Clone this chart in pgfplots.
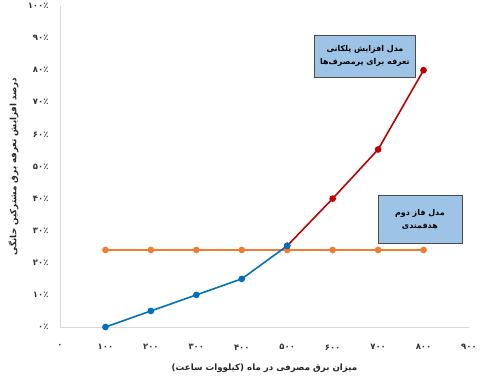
\documentclass[border=0pt]{standalone}
\usepackage{pgfplots}
\pgfplotsset{compat=1.18}
\usepackage{fontspec}
\setmainfont{DejaVu Sans}
\newfontfamily\fa[Script=Arabic]{DejaVu Sans}
\TeXXeTstate=1
\definecolor{cblue}{RGB}{0,112,192}
\definecolor{corng}{RGB}{237,125,49}
\definecolor{cred}{RGB}{192,0,0}
\definecolor{cgrid}{RGB}{217,217,217}
\definecolor{cbox}{RGB}{157,195,230}
\begin{document}
\begin{tikzpicture}
\begin{axis}[
  scale only axis,
  width=409bp, height=321bp,
  xmin=0, xmax=900, ymin=0, ymax=100,
  axis lines*=left,
  axis line style={cgrid, line width=0.8pt},
  tick style={draw=none},
  xtick={0,100,...,900},
  xticklabels={۰,۱۰۰,۲۰۰,۳۰۰,۴۰۰,۵۰۰,۶۰۰,۷۰۰,۸۰۰,۹۰۰},
  ytick={0,10,...,100},
  yticklabels={۰٪,۱۰٪,۲۰٪,۳۰٪,۴۰٪,۵۰٪,۶۰٪,۷۰٪,۸۰٪,۹۰٪,۱۰۰٪},
  ticklabel style={font=\fa\bfseries\fontsize{8.5}{10}\selectfont, text=black!80},
  xticklabel style={yshift=-14bp},
  yticklabel style={xshift=-8bp},
  xlabel={\beginR میزان برق مصرفی در ماه (کیلووات ساعت)\endR},
  ylabel={\beginR درصد افزایش تعرفه برق مشترکین خانگی\endR},
  label style={font=\fa\bfseries\fontsize{8.7}{10}\selectfont, text=black!85},
  xlabel style={at={(axis description cs:0.5,0)}, anchor=north, yshift=-33bp},
  ylabel style={at={(axis description cs:0,0.5)}, anchor=south, yshift=38bp},
  clip=false,
]
\addplot[draw=corng, fill=none, line width=1.6pt, mark=*, mark size=2.5pt, mark options={fill=corng, draw=corng}] coordinates {
  (100,24) (200,24) (300,24) (400,24) (500,24) (600,24) (700,24) (800,24)};
\addplot[draw=cred, line width=1.6pt, mark=*, mark size=2.5pt, mark options={fill=cred, draw=cred}] coordinates {
  (500,25.3) (600,40) (700,55.3) (800,80)};
\addplot[draw=cblue, line width=1.6pt, mark=*, mark size=2.5pt, mark options={fill=cblue, draw=cblue}] coordinates {
  (100,0) (200,5) (300,10) (400,15) (500,25.3)};
\node[draw=black!70, fill=cbox, align=center, font=\fa\bfseries\fontsize{8}{13}\selectfont,
  minimum width=101bp, minimum height=42bp, inner sep=2bp]
  at (axis cs:671,84.4) {\beginR مدل افزایش پلکانی\endR\\\beginR تعرفه برای پرمصرف‌ها\endR};
\node[draw=black!70, fill=cbox, align=center, font=\fa\bfseries\fontsize{8}{13}\selectfont,
  minimum width=84bp, minimum height=48bp, inner sep=2bp]
  at (axis cs:792,33.6) {\beginR مدل فاز دوم\endR\\\beginR هدفمندی\endR};
\end{axis}
\path (current axis.south west) ++(-60bp,-53bp) coordinate (bbA);
\path (current axis.north east) ++(20bp,5bp) coordinate (bbB);
\path (bbA) rectangle (bbB);
\end{tikzpicture}
\end{document}
